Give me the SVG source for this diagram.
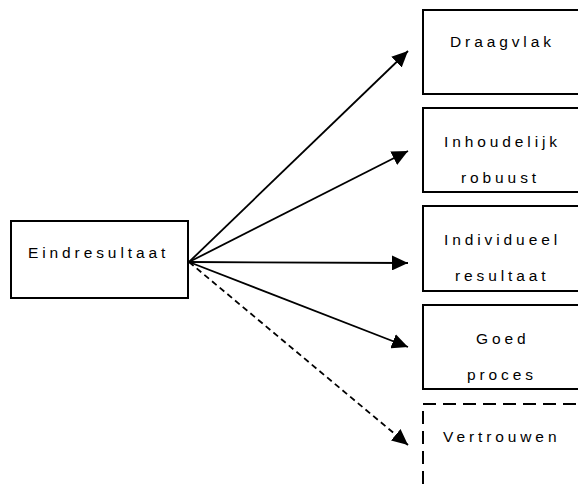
<svg xmlns="http://www.w3.org/2000/svg" width="578" height="486" viewBox="0 0 578 486">
  <style>
    .box { fill: #ffffff; stroke: #000000; stroke-width: 2; }
    .dashed { stroke-dasharray: 13 7; }
    .lbl { font-family: "Liberation Sans", Arial, sans-serif; font-size: 15.5px; letter-spacing: 3.9px; fill: #000000; }
    .edge { stroke: #000000; stroke-width: 1.8; fill: none; marker-end: url(#head); }
    .edge-dash { stroke-dasharray: 6 4; }
  </style>
  <defs>
    <marker id="head" markerUnits="userSpaceOnUse" markerWidth="17" markerHeight="15" refX="16" refY="7.5" orient="auto">
      <path d="M0,0 L16,7.5 L0,15 Z" fill="#000000"/>
    </marker>
  </defs>
  <rect width="578" height="486" fill="#ffffff"/>

  <g id="node-eindresultaat">
    <rect class="box" x="11" y="221" width="177" height="77"/>
    <text class="lbl" x="28" y="258">Eindresultaat</text>
  </g>

  <g id="node-draagvlak">
    <rect class="box" x="423" y="10" width="170" height="84"/>
    <text class="lbl" x="450" y="47">Draagvlak</text>
  </g>

  <g id="node-inhoudelijk">
    <rect class="box" x="423" y="108" width="170" height="84"/>
    <text class="lbl" x="444" y="147">Inhoudelijk</text>
    <text class="lbl" x="461" y="183">robuust</text>
  </g>

  <g id="node-individueel">
    <rect class="box" x="423" y="206" width="170" height="85"/>
    <text class="lbl" x="444" y="245">Individueel</text>
    <text class="lbl" x="455" y="281">resultaat</text>
  </g>

  <g id="node-goed">
    <rect class="box" x="423" y="305" width="170" height="84"/>
    <text class="lbl" x="476" y="344">Goed</text>
    <text class="lbl" x="467" y="380">proces</text>
  </g>

  <g id="node-vertrouwen">
    <rect class="box dashed" x="423" y="404" width="170" height="100"/>
    <text class="lbl" x="443" y="442">Vertrouwen</text>
  </g>

  <g id="connectors">
    <line class="edge" x1="189" y1="262" x2="408" y2="51"/>
    <line class="edge" x1="189" y1="262" x2="408" y2="151"/>
    <line class="edge" x1="189" y1="262" x2="408" y2="263"/>
    <line class="edge" x1="189" y1="262" x2="408" y2="347"/>
    <line class="edge edge-dash" x1="189" y1="262" x2="408" y2="445"/>
  </g>
</svg>
